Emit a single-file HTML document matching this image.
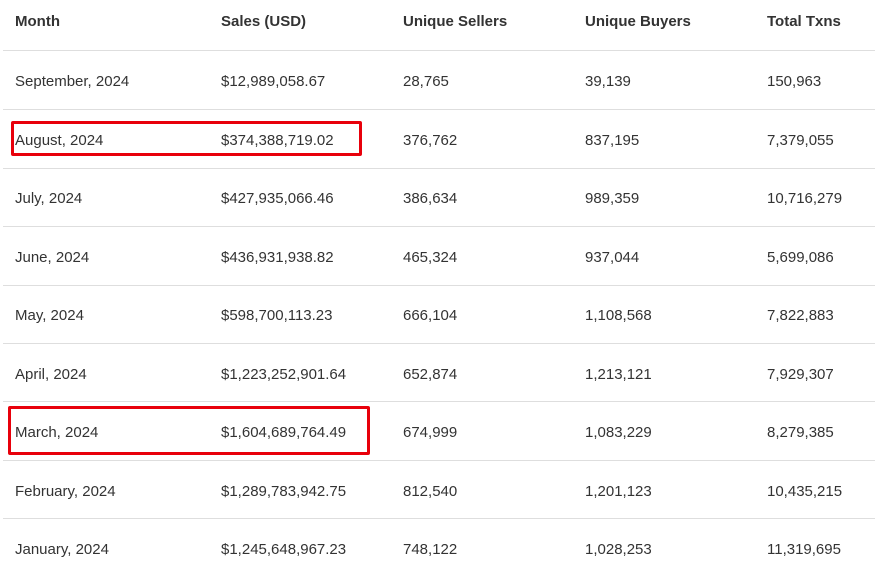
<!DOCTYPE html>
<html><head><style>
body{margin:0;width:875px;height:577px;background:#fff;font-family:"Liberation Sans",sans-serif;color:#333;position:relative;overflow:hidden}
.t{position:absolute;font-size:15px;line-height:18px;white-space:nowrap;transform:translateY(-50%)}
.h{font-weight:bold;color:#333}
.l{position:absolute;left:3px;right:0;height:1px;background:#dedede}
.r{position:absolute;border:3px solid #e8000b;border-radius:2px}
</style></head><body>
<div id="c"></div>
<div class="r" style="left:11px;top:121px;width:345px;height:29px"></div>
<div class="r" style="left:8px;top:406px;width:356px;height:43px"></div>
<script>
var cols=[15,221,403,585,767];
var H=["Month","Sales (USD)","Unique Sellers","Unique Buyers","Total Txns"];
var D=[["September, 2024","$12,989,058.67","28,765","39,139","150,963"],
["August, 2024","$374,388,719.02","376,762","837,195","7,379,055"],
["July, 2024","$427,935,066.46","386,634","989,359","10,716,279"],
["June, 2024","$436,931,938.82","465,324","937,044","5,699,086"],
["May, 2024","$598,700,113.23","666,104","1,108,568","7,822,883"],
["April, 2024","$1,223,252,901.64","652,874","1,213,121","7,929,307"],
["March, 2024","$1,604,689,764.49","674,999","1,083,229","8,279,385"],
["February, 2024","$1,289,783,942.75","812,540","1,201,123","10,435,215"],
["January, 2024","$1,245,648,967.23","748,122","1,028,253","11,319,695"]];
var s="";
H.forEach(function(h,j){s+='<div class="t h" style="left:'+cols[j]+'px;top:22px">'+h+'</div>'});
var lines=[50,109,168,226,285,343,401,460,518];
lines.forEach(function(y){s+='<div class="l" style="top:'+y+'px"></div>'});
D.forEach(function(r,i){var y=82+58.5*i;r.forEach(function(v,j){s+='<div class="t" style="left:'+cols[j]+'px;top:'+y+'px">'+v+'</div>'})});
document.getElementById("c").innerHTML=s;
</script>
</body></html>
